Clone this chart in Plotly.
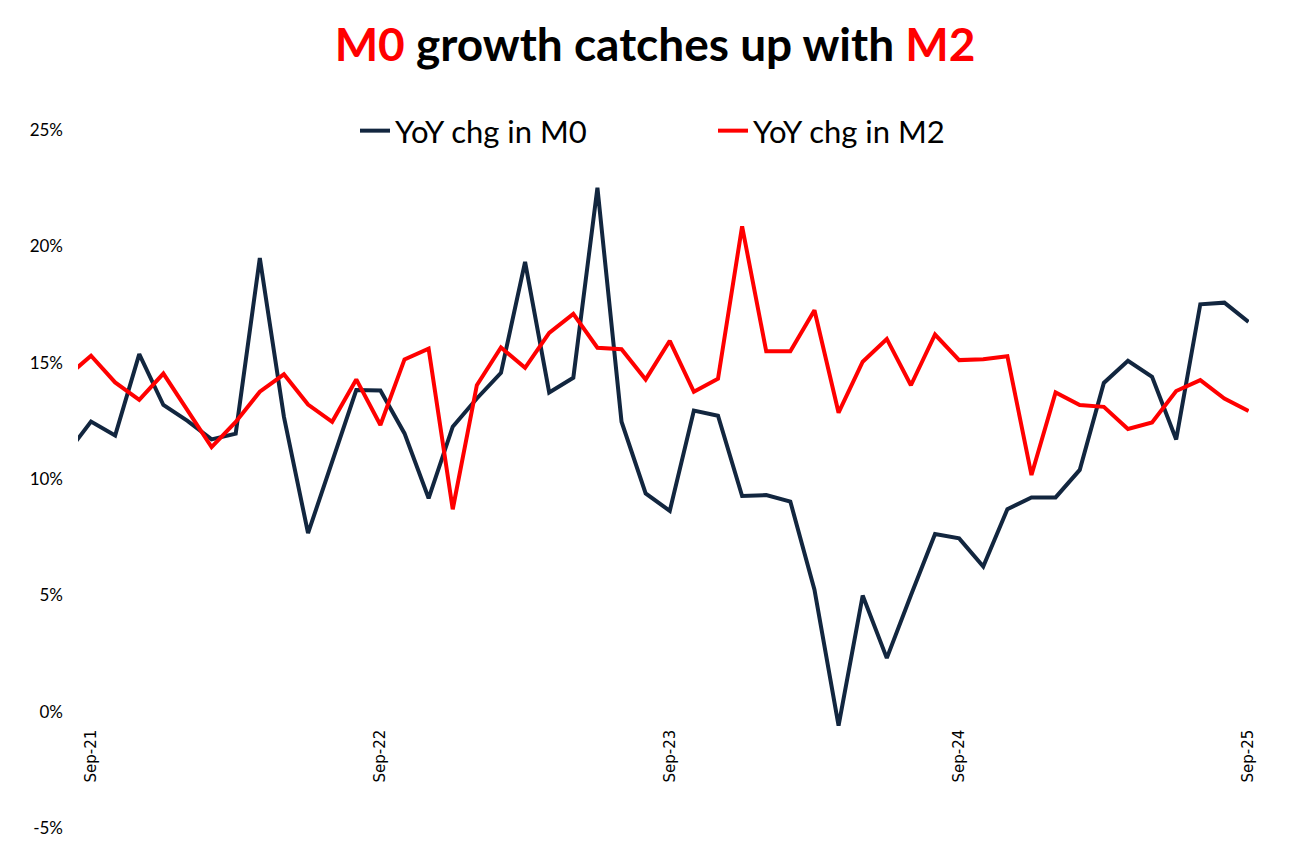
import plotly.graph_objects as go

# Monthly categories (Aug-21 is the partially visible first point)
months = ["Aug-21", "Sep-21", "Oct-21", "Nov-21", "Dec-21",
          "Jan-22", "Feb-22", "Mar-22", "Apr-22", "May-22", "Jun-22", "Jul-22", "Aug-22", "Sep-22", "Oct-22", "Nov-22", "Dec-22",
          "Jan-23", "Feb-23", "Mar-23", "Apr-23", "May-23", "Jun-23", "Jul-23", "Aug-23", "Sep-23", "Oct-23", "Nov-23", "Dec-23",
          "Jan-24", "Feb-24", "Mar-24", "Apr-24", "May-24", "Jun-24", "Jul-24", "Aug-24", "Sep-24", "Oct-24", "Nov-24", "Dec-24",
          "Jan-25", "Feb-25", "Mar-25", "Apr-25", "May-25", "Jun-25", "Jul-25", "Aug-25", "Sep-25"]

m0_yoy = [11.1, 12.47, 11.87, 15.37, 13.18,
          12.5, 11.7, 11.95, 19.5, 12.67, 7.67, 10.8, 13.82, 13.8, 11.96, 9.17, 12.25,
          13.46, 14.56, 19.33, 13.72, 14.35, 22.52, 12.46, 9.38, 8.63, 12.94, 12.72, 9.27,
          9.31, 9.03, 5.24, -0.6, 4.99, 2.3, 5.0, 7.64, 7.45, 6.24, 8.7, 9.21,
          9.21, 10.39, 14.13, 15.08, 14.39, 11.7, 17.51, 17.58, 16.75]

m2_yoy = [14.4, 15.3, 14.15, 13.4, 14.53,
          12.93, 11.37, 12.45, 13.75, 14.5, 13.2, 12.46, 14.28, 12.32, 15.14, 15.6, 8.7,
          14.03, 15.65, 14.78, 16.28, 17.1, 15.64, 15.58, 14.28, 15.94, 13.75, 14.31, 20.86,
          15.49, 15.49, 17.25, 12.85, 15.04, 16.02, 14.03, 16.21, 15.11, 15.15, 15.28, 10.17,
          13.72, 13.18, 13.1, 12.15, 12.43, 13.78, 14.25, 13.46, 12.92]

x_ticks = ["Sep-21", "Sep-22", "Sep-23", "Sep-24", "Sep-25"]
y_ticks = [-5, 0, 5, 10, 15, 20, 25]
y_ticktext = ["-5%", "0%", "5%", "10%", "15%", "20%", "25%"]

NAVY = "#12263f"
RED = "#ff0000"
FONT = "Lato"

fig = go.Figure()
fig.add_trace(go.Scatter(x=months, y=m0_yoy, mode="lines", name="YoY chg in M0",
                         line=dict(color=NAVY, width=4), legend="legend", showlegend=True))
fig.add_trace(go.Scatter(x=months, y=m2_yoy, mode="lines", name="YoY chg in M2",
                         line=dict(color=RED, width=4), legend="legend2", showlegend=True))

fig.update_layout(
    width=1292, height=854,
    showlegend=True,
    margin=dict(l=78, r=43, t=130, b=26, autoexpand=False),
    paper_bgcolor="white", plot_bgcolor="white",
    font=dict(family=FONT, color="#000000"),
    title=dict(
        text="<span style='color:#ff0000'>M0</span> growth catches up with <span style='color:#ff0000'>M2</span>",
        font=dict(family=FONT, size=46, color="#000000", weight="bold"),
        x=0.507, xref="container", xanchor="center",
        y=1 - 45 / 854, yref="container", yanchor="middle",
    ),
    legend=dict(orientation="h", xref="container", yref="container",
                x=355 / 1292, y=1 - 131 / 854, xanchor="left", yanchor="middle",
                font=dict(family=FONT, size=31, color="#000000"), bgcolor="rgba(0,0,0,0)"),
    legend2=dict(orientation="h", xref="container", yref="container",
                 x=713 / 1292, y=1 - 131 / 854, xanchor="left", yanchor="middle",
                 font=dict(family=FONT, size=31, color="#000000"), bgcolor="rgba(0,0,0,0)"),
    xaxis=dict(type="category", categoryorder="array", categoryarray=months,
               range=[0.46, 49.02], tickmode="array", tickvals=x_ticks, ticktext=x_ticks,
               tickangle=-90, anchor="free", position=5 / 30,
               showgrid=False, zeroline=False, showline=False, ticks="",
               ticklabelstandoff=14, automargin=False,
               tickfont=dict(family="DejaVu Sans", size=15, color="#000000")),
    yaxis=dict(range=[-5, 25], tickmode="array", tickvals=y_ticks, ticktext=y_ticktext,
               showgrid=False, zeroline=False, showline=False, ticks="",
               ticklabelstandoff=14, automargin=False,
               tickfont=dict(family=FONT, size=17, color="#000000")),
)

fig.write_html("out.html")
